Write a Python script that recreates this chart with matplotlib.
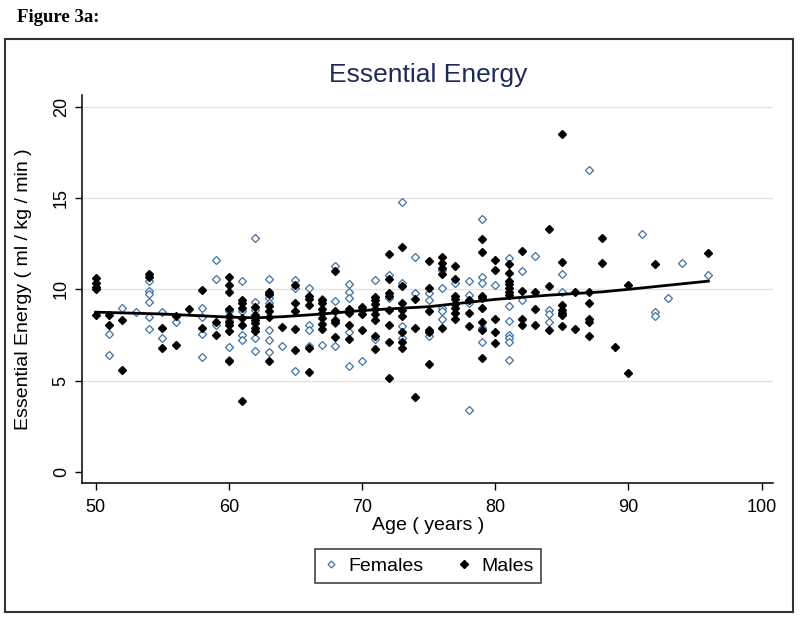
import matplotlib
matplotlib.use("Agg")
import matplotlib.pyplot as plt
from matplotlib.lines import Line2D
from matplotlib.patches import Rectangle

plt.rcParams['font.family'] = ['Liberation Sans', 'DejaVu Sans']

# females (hollow markers): age -> values
female_ages = [51, 51, 52, 53, 54, 54, 54, 54, 54, 54, 55, 55, 56,
               58, 58, 58, 58, 59, 59, 59, 60, 60, 60, 60, 61, 61, 61, 61,
               62, 62, 62, 62, 62, 63, 63, 63, 63, 63, 63, 63, 64,
               65, 65, 65, 66, 66, 66, 66, 67, 67, 68, 68, 68, 68,
               69, 69, 69, 69, 69, 70, 71, 71, 72, 72, 73, 73, 73, 73,
               74, 74, 75, 75, 75, 76, 76, 76, 76, 76, 77,
               78, 78, 78, 78, 79, 79, 79, 79, 79, 80,
               81, 81, 81, 81, 81, 81, 81, 82, 82, 83, 84, 84, 84,
               85, 85, 87, 91, 92, 92, 93, 94, 96]
female_vals = [7.55, 6.42, 8.97, 8.77, 10.48, 9.9, 9.77, 9.3, 8.5, 7.82, 8.77, 7.33, 8.22,
               8.97, 8.5, 7.55, 6.27, 11.63, 10.57, 8.06, 8.79, 8.3, 6.84, 6.15, 10.46, 8.79, 7.48, 7.2,
               12.82, 9.3, 8.86, 7.33, 6.64, 10.57, 9.7, 9.5, 9.24, 7.75, 7.2, 6.57, 6.91,
               10.5, 10.05, 5.51, 10.08, 8.06, 7.75, 6.88, 9.46, 6.97, 11.3, 9.37, 8.15, 6.91,
               10.3, 9.85, 9.53, 7.66, 5.78, 6.06, 10.5, 7.27, 10.81, 9.52, 14.8, 10.37, 7.97, 7.33,
               11.76, 9.79, 9.79, 9.39, 7.46, 11.06, 10.08, 8.97, 8.83, 8.37, 10.33,
               10.43, 9.7, 9.24, 3.38, 13.83, 10.66, 10.37, 7.88, 7.09, 10.24,
               11.74, 9.1, 8.28, 7.51, 7.33, 7.11, 6.15, 11.0, 9.39, 11.85, 8.88, 8.64, 8.2,
               10.85, 9.88, 16.56, 13.03, 8.75, 8.55, 9.52, 11.43, 10.79]

# males (filled markers)
male_ages = [50, 50, 50, 50, 50, 51, 51, 52, 52, 54, 54, 55, 55, 56, 56, 57, 58, 58, 59, 59,
             60, 60, 60, 60, 60, 60, 60, 60, 60, 61, 61, 61, 61, 61, 61,
             62, 62, 62, 62, 62, 62, 63, 63, 63, 63, 63, 63, 64,
             65, 65, 65, 65, 65, 66, 66, 66, 66, 66, 67, 67, 67, 67, 67, 67, 67,
             68, 68, 68, 68, 68, 69, 69, 69, 69, 70, 70, 70, 70,
             71, 71, 71, 71, 71, 71, 71, 71, 72, 72, 72, 72, 72, 72, 72, 72,
             73, 73, 73, 73, 73, 73, 73, 73, 74, 74, 74, 75, 75, 75, 75, 75, 75,
             76, 76, 76, 76, 76, 77, 77, 77, 77, 77, 77, 77, 77, 78, 78, 78,
             79, 79, 79, 79, 79, 79, 79, 79, 80, 80, 80, 80, 80,
             81, 81, 81, 81, 81, 81, 81, 82, 82, 82, 82, 83, 83, 83, 84, 84, 84,
             85, 85, 85, 85, 85, 85, 85, 86, 86, 87, 87, 87, 87, 87, 88, 88,
             89, 90, 90, 92, 96]
male_vals = [10.6, 10.35, 10.15, 10.0, 8.6, 8.59, 8.04, 8.33, 5.56, 10.83, 10.7, 7.9, 6.77, 8.53, 6.97, 8.95, 9.95, 7.9, 8.2, 7.48,
             10.66, 10.24, 9.88, 8.92, 8.52, 8.2, 8.02, 7.7, 6.09, 9.39, 9.23, 8.97, 8.42, 8.06, 3.87,
             9.06, 8.6, 8.33, 8.15, 7.91, 7.7, 9.88, 9.75, 9.1, 8.79, 8.46, 6.06, 7.95,
             10.24, 9.24, 8.83, 7.84, 6.69, 9.66, 9.48, 9.12, 6.79, 5.45, 9.42, 9.24, 8.95, 8.73, 8.42, 8.11, 7.82,
             11.0, 8.79, 8.33, 8.2, 7.4, 8.95, 8.73, 8.06, 7.27, 9.06, 8.88, 8.64, 7.75,
             9.6, 9.39, 9.18, 8.93, 8.64, 8.33, 7.46, 6.73, 11.91, 10.55, 9.79, 9.66, 8.88, 8.06, 7.11, 5.14,
             12.34, 10.16, 9.24, 8.88, 8.52, 7.64, 7.09, 6.79, 9.48, 7.9, 4.09, 11.56, 10.05, 8.8, 7.79, 7.64, 5.93,
             11.79, 11.43, 11.18, 10.85, 7.9, 11.28, 10.55, 9.66, 9.48, 9.18, 8.97, 8.73, 8.39, 9.42, 8.73, 7.97,
             12.78, 12.05, 9.66, 9.52, 9.0, 8.2, 7.79, 6.24, 11.58, 11.06, 8.39, 7.64, 7.06,
             11.37, 10.92, 10.48, 10.3, 10.1, 9.88, 9.7, 12.12, 9.93, 8.39, 8.06, 9.84, 8.93, 8.06, 13.32, 10.16, 7.79,
             18.48, 11.48, 9.12, 8.88, 8.73, 8.57, 7.97, 9.84, 7.82, 9.84, 9.24, 8.37, 8.2, 7.46, 12.82, 11.43,
             6.84, 10.24, 5.42, 11.36, 11.98]

# smoothed fit line
fit_ages = [50, 55, 60, 62, 64, 67, 70, 73, 75, 80, 84, 88, 90, 96]
fit_vals = [8.75, 8.65, 8.48, 8.44, 8.5, 8.65, 8.84, 8.97, 9.05, 9.45, 9.68, 9.86, 10.0, 10.45]

x_ticks = [50, 60, 70, 80, 90, 100]
y_ticks = [0, 5, 10, 15, 20]

fig = plt.figure(figsize=(8, 6.17), dpi=100)
ax = fig.add_axes([82.3 / 800, 1 - 483.3 / 617, 691 / 800, 388.3 / 617])

for y in y_ticks[1:]:
    ax.axhline(y, color='#e3e3e3', lw=1.0, zorder=0)

ax.plot(female_ages, female_vals, 'D', ms=4.5, mfc='white', mec='#3f72a3', mew=0.9, ls='none', zorder=2)
ax.plot(male_ages, male_vals, 'D', ms=4.5, mfc='black', mec='black', ls='none', zorder=3)
ax.plot(fit_ages, fit_vals, color='black', lw=2, zorder=4)

ax.set_xlim(49.0, 100.87)
ax.set_ylim(-0.62, 20.64)
ax.set_xticks(x_ticks)
ax.set_yticks(y_ticks)
ax.tick_params(direction='out', length=5, width=1, labelsize=13, colors='black')
ax.tick_params(axis='x', pad=6)
ax.tick_params(axis='y', pad=4)
for lab in ax.get_yticklabels():
    lab.set_rotation(90)
    lab.set_va('center')

for s in ['top', 'right']:
    ax.spines[s].set_visible(False)
for s in ['left', 'bottom']:
    ax.spines[s].set_linewidth(1.1)

ax.set_xlabel('Age ( years )', fontsize=14, labelpad=1)
ax.set_ylabel('Essential Energy ( ml / kg / min )', fontsize=14)
ax.yaxis.set_label_coords(-0.073, 0.5)

ax.text(0.5, 1.0515, 'Essential Energy', transform=ax.transAxes, ha='center', va='center',
        fontsize=19, color='#1e2b5a')

handles = [Line2D([], [], marker='D', ls='none', ms=3.5, mfc='white', mec='#3f72a3', mew=0.9),
           Line2D([], [], marker='D', ls='none', ms=4.5, mfc='black', mec='black')]
leg = fig.legend(handles, ['Females', 'Males'], loc='center', bbox_to_anchor=(428 / 800, 1 - 566 / 617),
                 ncol=2, fontsize=14, frameon=True, fancybox=False, edgecolor='black',
                 handlelength=0.9, handletextpad=0.45, columnspacing=1.6, borderpad=0.4)
leg.get_frame().set_linewidth(1.1)

fig.patches.append(Rectangle((5 / 800, 1 - 612 / 617), 788 / 800, 573 / 617, transform=fig.transFigure,
                             fill=False, edgecolor='#333333', lw=1.5))

fig.text(17 / 800, 1 - 17 / 617, 'Figure 3a:', fontsize=13.5, fontweight='bold',
         family=['Liberation Serif', 'DejaVu Serif'], va='center', ha='left')

fig.savefig('out.png', dpi=100)
